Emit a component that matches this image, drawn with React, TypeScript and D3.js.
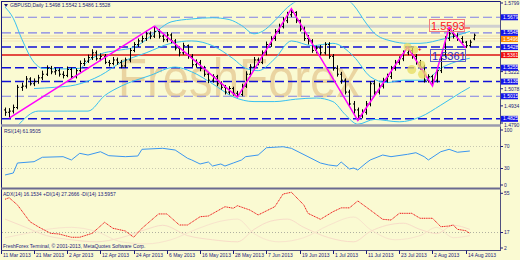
import React from 'react';
import * as d3 from 'd3';

const dateLabels = ['11 Mar 2013','21 Mar 2013','2 Apr 2013','12 Apr 2013','24 Apr 2013','6 May 2013','16 May 2013','28 May 2013','7 Jun 2013','19 Jun 2013','1 Jul 2013','11 Jul 2013','23 Jul 2013','2 Aug 2013','14 Aug 2013'];

const opens = [1.4900,1.4880,1.4890,1.4920,1.5090,1.5100,1.5160,1.5120,1.5140,1.5170,1.5200,1.5250,1.5220,1.5230,1.5200,1.5190,1.5240,1.5180,1.5230,1.5290,1.5310,1.5340,1.5380,1.5330,1.5350,1.5300,1.5290,1.5320,1.5300,1.5270,1.5320,1.5400,1.5450,1.5480,1.5500,1.5540,1.5520,1.5560,1.5520,1.5490,1.5530,1.5480,1.5420,1.5380,1.5440,1.5350,1.5280,1.5300,1.5250,1.5200,1.5150,1.5180,1.5120,1.5090,1.5050,1.5080,1.5040,1.5030,1.5100,1.5200,1.5260,1.5320,1.5300,1.5380,1.5450,1.5500,1.5560,1.5600,1.5650,1.5700,1.5720,1.5650,1.5580,1.5500,1.5480,1.5400,1.5420,1.5380,1.5450,1.5350,1.5250,1.5200,1.5150,1.5050,1.4950,1.4900,1.4850,1.4880,1.4950,1.5120,1.5050,1.5100,1.5150,1.5180,1.5250,1.5300,1.5330,1.5380,1.5400,1.5350,1.5300,1.5260,1.5150,1.5180,1.5150,1.5230,1.5360,1.5500,1.5540,1.5520,1.5500,1.5470,1.5440,1.5498];
const highs = [1.4920,1.4915,1.4945,1.5110,1.5130,1.5185,1.5175,1.5165,1.5195,1.5230,1.5275,1.5270,1.5255,1.5250,1.5225,1.5265,1.5255,1.5250,1.5315,1.5335,1.5365,1.5410,1.5400,1.5375,1.5370,1.5320,1.5345,1.5340,1.5320,1.5340,1.5420,1.5470,1.5500,1.5525,1.5565,1.5560,1.5604,1.5580,1.5540,1.5555,1.5545,1.5495,1.5430,1.5465,1.5450,1.5370,1.5325,1.5320,1.5270,1.5215,1.5200,1.5195,1.5140,1.5110,1.5100,1.5095,1.5060,1.5120,1.5225,1.5285,1.5345,1.5340,1.5400,1.5475,1.5520,1.5580,1.5625,1.5680,1.5725,1.5752,1.5730,1.5660,1.5600,1.5530,1.5495,1.5440,1.5445,1.5470,1.5470,1.5370,1.5275,1.5220,1.5165,1.5070,1.4975,1.4920,1.4905,1.4975,1.5140,1.5150,1.5125,1.5170,1.5205,1.5270,1.5320,1.5350,1.5400,1.5428,1.5420,1.5370,1.5320,1.5280,1.5200,1.5195,1.5250,1.5380,1.5520,1.5593,1.5570,1.5545,1.5520,1.5480,1.5490,1.5542];
const lows = [1.4850,1.4831,1.4870,1.4905,1.5060,1.5080,1.5105,1.5100,1.5120,1.5150,1.5185,1.5200,1.5195,1.5180,1.5165,1.5175,1.5160,1.5165,1.5215,1.5270,1.5295,1.5320,1.5315,1.5310,1.5285,1.5265,1.5275,1.5280,1.5250,1.5255,1.5300,1.5385,1.5430,1.5465,1.5480,1.5495,1.5505,1.5500,1.5470,1.5470,1.5460,1.5400,1.5350,1.5365,1.5330,1.5260,1.5255,1.5225,1.5180,1.5125,1.5130,1.5100,1.5070,1.5030,1.5030,1.5020,1.5008,1.5015,1.5085,1.5180,1.5240,1.5275,1.5285,1.5360,1.5430,1.5480,1.5540,1.5585,1.5630,1.5680,1.5630,1.5560,1.5480,1.5450,1.5380,1.5375,1.5360,1.5365,1.5330,1.5230,1.5180,1.5120,1.5030,1.4930,1.4870,1.4813,1.4830,1.4860,1.4930,1.5020,1.5030,1.5080,1.5130,1.5160,1.5230,1.5280,1.5310,1.5360,1.5330,1.5280,1.5240,1.5130,1.5130,1.5102,1.5130,1.5210,1.5340,1.5480,1.5500,1.5480,1.5450,1.5421,1.5430,1.5486];
const closes = [1.4880,1.4890,1.4920,1.5090,1.5100,1.5160,1.5120,1.5140,1.5170,1.5200,1.5250,1.5220,1.5230,1.5200,1.5190,1.5240,1.5180,1.5230,1.5290,1.5310,1.5340,1.5380,1.5330,1.5350,1.5300,1.5290,1.5320,1.5300,1.5270,1.5320,1.5400,1.5450,1.5480,1.5500,1.5540,1.5520,1.5560,1.5520,1.5490,1.5530,1.5480,1.5420,1.5380,1.5440,1.5350,1.5280,1.5300,1.5250,1.5200,1.5150,1.5180,1.5120,1.5090,1.5050,1.5080,1.5040,1.5030,1.5100,1.5200,1.5260,1.5320,1.5300,1.5380,1.5450,1.5500,1.5560,1.5600,1.5650,1.5700,1.5720,1.5650,1.5580,1.5500,1.5480,1.5400,1.5420,1.5380,1.5450,1.5350,1.5250,1.5200,1.5150,1.5050,1.4950,1.4900,1.4850,1.4880,1.4950,1.5120,1.5050,1.5100,1.5150,1.5180,1.5250,1.5300,1.5330,1.5380,1.5400,1.5350,1.5300,1.5260,1.5150,1.5180,1.5150,1.5230,1.5360,1.5500,1.5540,1.5520,1.5500,1.5470,1.5440,1.5470,1.5528];

const zigzag: [number, number][] = [[1,1.4831],[36,1.5604],[56,1.5008],[69,1.5752],[85,1.4813],[97,1.5428],[103,1.5102],[107,1.5593],[111,1.5421]];

const bbUpper: [number, number][] = [[0,1.5765],[2,1.5670],[4,1.5500],[7,1.5300],[9,1.5250],[14,1.5245],[18,1.5250],[20,1.5310],[23,1.5370],[27,1.5400],[31,1.5425],[34,1.5490],[37,1.5575],[40,1.5640],[45,1.5665],[50,1.5675],[54,1.5660],[57,1.5610],[60,1.5540],[62,1.5560],[65,1.5650],[68,1.5760],[71,1.5830],[76,1.5880],[81,1.5860],[84,1.5780],[87,1.5630],[89,1.5545],[93,1.5480],[97,1.5460],[100,1.5460],[106,1.5500],[112,1.5560]];
const bbMiddle: [number, number][] = [[7,1.5080],[12,1.5090],[17,1.5110],[23,1.5190],[28,1.5300],[34,1.5380],[40,1.5460],[45,1.5480],[50,1.5440],[55,1.5330],[58,1.5250],[61,1.5230],[65,1.5330],[69,1.5480],[74,1.5440],[79,1.5460],[84,1.5350],[88,1.5180],[92,1.5130],[96,1.5150],[101,1.5150],[105,1.5250],[112,1.5335]];
const bbLower: [number, number][] = [[3,1.4765],[8,1.4890],[15,1.4890],[20,1.4890],[24,1.5020],[28,1.5100],[35,1.5190],[41,1.5260],[45,1.5220],[50,1.5120],[55,1.5010],[60,1.4970],[65,1.4970],[70,1.4990],[75,1.5000],[79,1.4970],[82,1.4860],[85,1.4780],[89,1.4820],[95,1.4800],[100,1.4840],[105,1.4940],[110,1.5050],[112,1.5090]];

const rsiPts: [number, number][] = [[0,18.2],[2,21.8],[3,40],[7,42.4],[9,50.4],[14,51.5],[16,45.5],[18,57.6],[20,54.5],[23,60.5],[25,53.3],[29,51.5],[32,52.7],[33,64.9],[38,66.7],[41,63.6],[44,48.5],[45,45.5],[47,38.2],[49,41.8],[50,34.5],[52,38.2],[53,34.5],[55,40],[57,45.5],[58,51.5],[61,54.5],[63,67.8],[67,69.6],[69,66.7],[73,51.5],[76,40],[78,36.4],[80,34.5],[81,41.8],[83,29.1],[84,30.9],[85,27.3],[87,40],[88,45.5],[91,54.5],[93,51.5],[97,55.8],[99,58.7],[101,51.5],[102,45.5],[105,60.5],[107,64.9],[109,59.5],[112,61.8]];

const adxPts: [number, number][] = [[0,49.2],[1,50.7],[3,43.7],[6,27.5],[8,22.6],[11,16.2],[13,15.6],[16,12.4],[18,12.4],[21,16.2],[24,26.9],[26,21.1],[29,18.5],[31,12.4],[33,21.1],[37,35],[39,35],[42,24.3],[44,24.3],[47,32.3],[49,33],[53,42],[55,40.5],[56,43],[59,38.8],[61,34],[65,42],[67,54.3],[69,56],[72,43.7],[73,35.6],[76,29.8],[79,37.1],[81,40.9],[83,40.9],[85,47.6],[88,38.8],[91,29.8],[93,29.1],[95,35.6],[98,35.6],[100,30.8],[103,30.8],[105,22.6],[107,23.3],[108,24.3],[109,20.1],[111,18.8],[112,16.2]];
const plusDiPts: [number, number][] = [[0,30],[5,22],[10,14],[16,10],[22,8],[28,12],[34,20],[38,24],[44,14],[50,10],[56,8],[60,20],[64,28],[68,30],[72,22],[78,12],[84,8],[88,18],[92,24],[96,26],[100,20],[104,16],[108,24],[112,20]];
const minusDiPts: [number, number][] = [[0,12],[5,16],[10,20],[16,22],[22,18],[28,8],[34,6],[40,10],[46,20],[52,28],[56,30],[60,16],[66,8],[72,12],[78,24],[84,32],[88,20],[94,10],[100,14],[104,22],[108,12],[112,14]];

const priceTicks = [1.5799,1.5222,1.5078,1.4934,1.4790];
const blueLevels = [1.5679,1.5548,1.5428,1.5255,1.5138,1.5015,1.4825];
const lavenderDashed = [1.5679,1.5548,1.5015];
const blueDashed = [1.5428,1.5255,1.5138,1.4825];
const redLevel = 1.5361;
const orangeLevel = 1.5496;
const rsiTicks = [100, 70, 30, 0];
const adxTicks = [55, 17, 2];

const FONT = 'Liberation Sans, Arial, sans-serif';

export default function App() {
  const x = d3.scaleLinear().domain([0, 113]).range([5, 474]);
  const y = d3.scaleLinear().domain([1.4790, 1.5799]).range([123, 3]);
  const yR = d3.scaleLinear().domain([0, 100]).range([185, 130]);
  const yA = d3.scaleLinear().domain([2, 55]).range([248, 193.3]);

  const lineP = d3.line<[number, number]>().x(d => x(d[0])).y(d => y(d[1]));
  const lineCurve = d3.line<[number, number]>().x(d => x(d[0])).y(d => y(d[1])).curve(d3.curveMonotoneX);
  const lineR = d3.line<[number, number]>().x(d => x(d[0])).y(d => yR(d[1]));
  const lineA = d3.line<[number, number]>().x(d => x(d[0])).y(d => yA(d[1]));
  const lineAc = d3.line<[number, number]>().x(d => x(d[0])).y(d => yA(d[1])).curve(d3.curveMonotoneX);

  const bg = '#fafad2';
  const navy = '#1a1a7a';
  const tickNudge = (v: number) => (v === 1.5222 ? 0.8 : v === 1.4790 ? 1.8 : 0);

  return (
    <svg width={520} height={260} style={{ position: 'absolute', left: 0, top: 0, fontFamily: FONT }}>
      <defs>
        <clipPath id="mainClip"><rect x={2} y={2.5} width={498} height={122} /></clipPath>
        <clipPath id="rsiClip"><rect x={2} y={127} width={498} height={61} /></clipPath>
        <clipPath id="adxClip"><rect x={2} y={190} width={498} height={60} /></clipPath>
      </defs>
      <rect x={0} y={0} width={520} height={260} fill={bg} />

      {/* Main panel */}
      <g clipPath="url(#mainClip)">
        <text x={118} y={97} fontSize={56} fontFamily="Liberation Sans, Arial, sans-serif" fill="#d8a868" opacity={0.45} textLength={242} lengthAdjust="spacingAndGlyphs">FreshForex</text>
        <line x1={155} x2={500} y1={y(1.5603)} y2={y(1.5603)} stroke="#d0d0d0" strokeWidth={3} />
        <line x1={2} x2={500} y1={36} y2={36} stroke="#eedcaa" strokeWidth={1} />
        <line x1={2} x2={500} y1={38.5} y2={38.5} stroke="#eedcaa" strokeWidth={1} />
        <line x1={2} x2={500} y1={41} y2={41} stroke="#f0e4bc" strokeWidth={1} />
        {lavenderDashed.map((v, i) => (
          <line key={'lv' + i} x1={2} x2={500} y1={y(v)} y2={y(v)} stroke="#8080e8" strokeWidth={1.2} strokeDasharray="9,4" />
        ))}
        {blueDashed.map((v, i) => (
          <line key={'bd' + i} x1={2} x2={500} y1={y(v)} y2={y(v)} stroke="#1010d8" strokeWidth={1.5} strokeDasharray="9,4" />
        ))}
        <line x1={2} x2={500} y1={y(redLevel)} y2={y(redLevel)} stroke="#dd1010" strokeWidth={1.5} />

        <path d={lineCurve(bbUpper) || ''} fill="none" stroke="#38c0f0" strokeWidth={1} />
        <path d={lineCurve(bbMiddle) || ''} fill="none" stroke="#38c0f0" strokeWidth={1} />
        <path d={lineCurve(bbLower) || ''} fill="none" stroke="#38c0f0" strokeWidth={1} />

        {closes.map((c, i) => {
          const xi = Math.round(x(i)) + 0.5;
          return (
            <g key={'b' + i} stroke="#000" strokeWidth={1}>
              <line x1={xi} x2={xi} y1={y(highs[i])} y2={y(lows[i])} />
              <line x1={xi - 1.5} x2={xi} y1={y(opens[i])} y2={y(opens[i])} />
              <line x1={xi} x2={xi + 1.5} y1={y(c)} y2={y(c)} />
            </g>
          );
        })}

        <path d={lineP(zigzag) || ''} fill="none" stroke="#ff00ff" strokeWidth={1.5} />

        {[[97, 1.5428, 4], [98.6, 1.5405, 4], [98, 1.5240, 4.5], [100.3, 1.5280, 4], [100.6, 1.5200, 4.5]].map((c, i) => (
          <circle key={'yc' + i} cx={x(c[0])} cy={y(c[1])} r={c[2]} fill="#e6dc60" opacity={0.75} />
        ))}
        <text x={x(99.5)} y={y(1.5395)} fontSize={6} fill="#dd0000" fontWeight="bold">+</text>

        <rect x={429.5} y={19.5} width={35} height={12} fill="none" stroke="#f08080" strokeWidth={1} />
        <text x={431} y={30} fontSize={11} fill="#ff2020">1.5593</text>
        <line x1={465} x2={470} y1={28} y2={28} stroke="#ff2020" strokeWidth={1} />
        <rect x={430.5} y={49.5} width={35} height={12} fill="none" stroke="#6060d0" strokeWidth={1} />
        <text x={432} y={60} fontSize={11} fill="#2a2ad0">1.5361</text>

        <text x={10} y={7} fontSize={5} fill={navy}>GBPUSD,Daily  1.5498 1.5542 1.5486 1.5528</text>
        <path d="M4,4 L8,4 L6,7 Z" fill={navy} />
      </g>

      {/* RSI panel */}
      <g clipPath="url(#rsiClip)">
        <line x1={2} x2={500} y1={yR(70)} y2={yR(70)} stroke="#c8c8b0" strokeWidth={1} strokeDasharray="1,2" />
        <line x1={2} x2={500} y1={yR(30)} y2={yR(30)} stroke="#c8c8b0" strokeWidth={1} strokeDasharray="1,2" />
        <path d={lineR(rsiPts) || ''} fill="none" stroke="#3a96f0" strokeWidth={1} />
        <text x={4} y={133} fontSize={5} fill={navy}>RSI(14) 61.9505</text>
      </g>

      {/* ADX panel */}
      <g clipPath="url(#adxClip)">
        <line x1={2} x2={500} y1={yA(17)} y2={yA(17)} stroke="#b0b0a0" strokeWidth={1} strokeDasharray="1,2" />
        <path d={lineAc(plusDiPts) || ''} fill="none" stroke="#f8dcc8" strokeWidth={1} />
        <path d={lineAc(minusDiPts) || ''} fill="none" stroke="#f8e4cc" strokeWidth={1} />
        <path d={lineA(adxPts) || ''} fill="none" stroke="#ee1c1c" strokeWidth={1} strokeDasharray="1.2,0.6" />
        <text x={3} y={196} fontSize={5} fill={navy}>ADX(14) 16.1534  +DI(14) 27.2666  -DI(14) 13.5957</text>
        <text x={3} y={248} fontSize={5} fill={navy}>FreshForex Terminal, © 2001-2013, MetaQuotes Software Corp.</text>
      </g>

      {/* frames */}
      <line x1={1.5} x2={1.5} y1={2} y2={250.5} stroke={navy} strokeWidth={1} />
      <line x1={1} x2={500.5} y1={1.5} y2={1.5} stroke={navy} strokeWidth={1} />
      <line x1={500.5} x2={500.5} y1={1} y2={251} stroke="#505080" strokeWidth={1} />
      <line x1={1} x2={501} y1={125.5} y2={125.5} stroke="#9a9aae" strokeWidth={2.5} />
      <line x1={1} x2={501} y1={188.5} y2={188.5} stroke="#6a6a90" strokeWidth={2} />
      <line x1={1} x2={501} y1={250.5} y2={250.5} stroke="#505080" strokeWidth={1} />

      {/* price axis */}
      {priceTicks.map((v, i) => (
        <g key={'pt' + i}>
          <line x1={500.5} x2={503} y1={y(v)} y2={y(v)} stroke={navy} />
          <text x={504} y={y(v) + 1.8 + tickNudge(v)} fontSize={5} fill={navy}>{v.toFixed(4)}</text>
        </g>
      ))}
      {blueLevels.map((v, i) => (
        <g key={'bl' + i}>
          <rect x={501} y={y(v) - 3} width={17} height={6} fill="#1414e8" />
          <text x={503} y={y(v) + 1.6} fontSize={5} fill="#fff">{v.toFixed(4)}</text>
        </g>
      ))}
      <rect x={501} y={y(orangeLevel) - 3} width={17} height={6} fill="#ff8c00" />
      <text x={503} y={y(orangeLevel) + 1.6} fontSize={5} fill="#fff">{orangeLevel.toFixed(4)}</text>
      <rect x={501} y={y(redLevel) - 3} width={17} height={6} fill="#f01010" />
      <text x={503} y={y(redLevel) + 1.6} fontSize={5} fill="#fff">{redLevel.toFixed(4)}</text>

      {/* RSI axis */}
      {rsiTicks.map(v => (
        <g key={'r' + v}>
          <line x1={500.5} x2={503} y1={yR(v)} y2={yR(v)} stroke={navy} />
          <text x={504} y={yR(v) + 1.8} fontSize={5} fill={navy}>{v}</text>
        </g>
      ))}
      {/* ADX axis */}
      {adxTicks.map(v => (
        <g key={'a' + v}>
          <line x1={500.5} x2={503} y1={yA(v)} y2={yA(v)} stroke={navy} />
          <text x={504} y={yA(v) + 1.8} fontSize={5} fill={navy}>{v}</text>
        </g>
      ))}

      {/* date axis */}
      {dateLabels.map((d, k) => {
        const xi = Math.round(x(8 * k - 1)) + 0.5;
        return (
          <g key={'d' + k}>
            <line x1={xi} x2={xi} y1={250.5} y2={254} stroke={navy} />
            <text x={xi + 1.5} y={257} fontSize={5} fill={navy}>{d}</text>
          </g>
        );
      })}
    </svg>
  );
}
